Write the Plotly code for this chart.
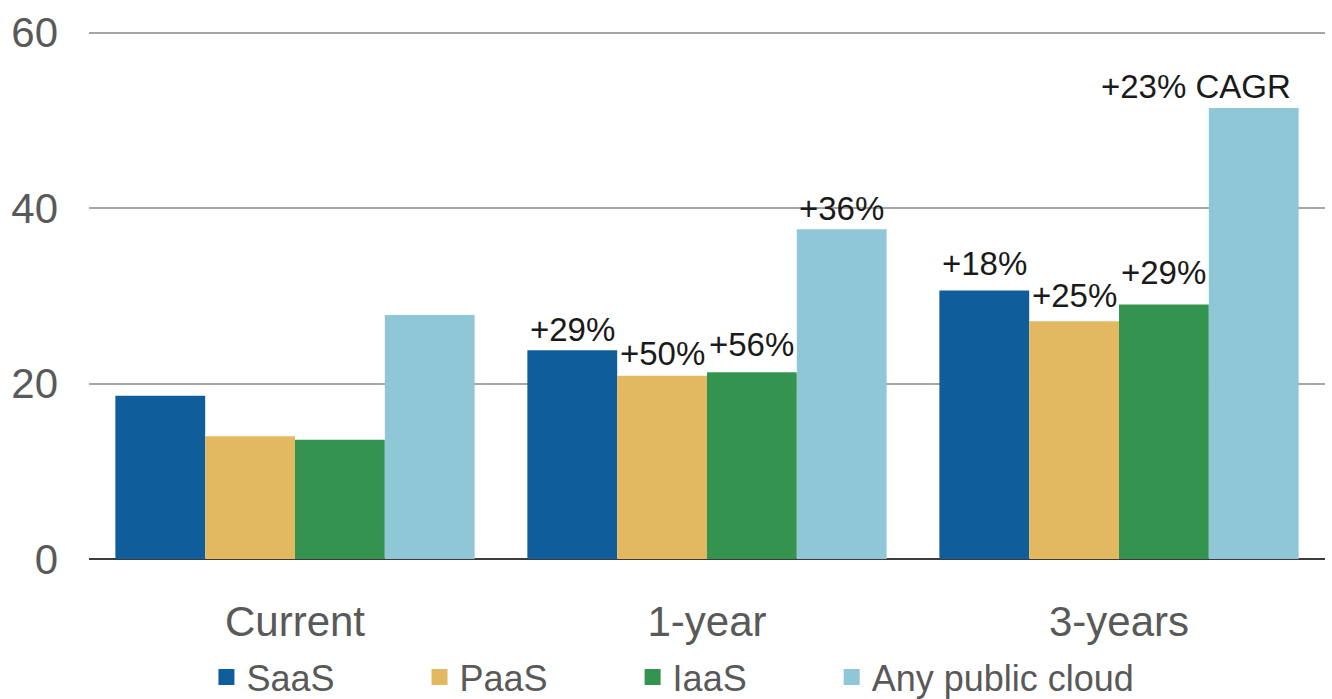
"""Grouped bar chart: public cloud adoption now, in 1 year and in 3 years."""

import plotly.graph_objects as go

PERIODS = ["Current", "1-year", "3-years"]
SERIES = ["SaaS", "PaaS", "IaaS", "Any public cloud"]

SAAS = [18.6, 23.8, 30.6]
PAAS = [14.0, 20.9, 27.1]
IAAS = [13.6, 21.3, 29.0]
ANY_CLOUD = [27.8, 37.6, 51.4]

# growth labels per series (None = no label)
SAAS_LABELS = [None, "+29%", "+18%"]
PAAS_LABELS = [None, "+50%", "+25%"]
IAAS_LABELS = [None, "+56%", "+29%"]
ANY_LABELS = [None, "+36%", "+23% CAGR"]

COLORS = ["#0F5E9B", "#E2B960", "#34944F", "#8FC7D7"]
LABEL_LIFT = [[0, 0, 7], [0, 2, 5], [0, 7, 12], [0, 0, 1]]  # px above bar, per series/period
FONT = "Liberation Sans, Arial, sans-serif"
BARGAP = 0.128
PAD = "\u00a0" * 8  # spacing between legend entries


def main() -> None:
    values = [SAAS, PAAS, IAAS, ANY_CLOUD]
    labels = [SAAS_LABELS, PAAS_LABELS, IAAS_LABELS, ANY_LABELS]

    fig = go.Figure()
    for k, (name, vals, color) in enumerate(zip(SERIES, values, COLORS)):
        fig.add_trace(go.Bar(
            x=PERIODS, y=vals, name=name, marker_color=color,
            marker_line_width=0, showlegend=False,
        ))
        # dummy trace so the legend square is bigger than the bar default
        legend_name = name if k == len(SERIES) - 1 else name + PAD
        fig.add_trace(go.Scatter(
            x=[None], y=[None], mode="markers", name=legend_name,
            marker=dict(symbol="square", size=16, color=color),
        ))

    # growth labels sit above each bar
    bar_w = (1 - BARGAP) / len(SERIES)
    for i, (vals, labs) in enumerate(zip(values, labels)):
        offset = (i - (len(SERIES) - 1) / 2) * bar_w
        for j, (v, lab) in enumerate(zip(vals, labs)):
            if not lab:
                continue
            wide = "CAGR" in lab
            fig.add_annotation(
                x=j + offset + (bar_w / 2 if wide else 0), y=v,
                text=lab, showarrow=False,
                xanchor="right" if wide else "center", yanchor="bottom",
                xshift=-6 if wide else 0, yshift=LABEL_LIFT[i][j],
                font=dict(size=33, color="#1a1a1a", family=FONT),
            )

    fig.update_layout(
        width=1332, height=699,
        barmode="group", bargap=BARGAP, bargroupgap=0,
        plot_bgcolor="white", paper_bgcolor="white",
        margin=dict(l=89, r=7, t=30, b=140),
        font=dict(family=FONT, color="#595959"),
        legend=dict(
            orientation="h", x=0.095, xanchor="left",
            yref="container", y=22 / 699, yanchor="middle",
            bgcolor="rgba(0,0,0,0)",
            font=dict(size=36, color="#595959"),
            itemsizing="trace", tracegroupgap=0,
        ),
    )
    fig.update_xaxes(
        showgrid=False, showline=False, ticks="", automargin=False,
        tickfont=dict(size=42, color="#595959"),
        ticklabelstandoff=34,
    )
    fig.update_yaxes(
        range=[0, 60.3], tickvals=[0, 20, 40, 60],
        showgrid=True, gridcolor="#A6A6A6", gridwidth=2,
        zeroline=True, zerolinecolor="#3C3C3C", zerolinewidth=2,
        showline=False, ticks="", automargin=False,
        tickfont=dict(size=42, color="#595959"),
        ticklabelstandoff=30,
    )

    # drop the default page margin so the figure sits at the window origin
    fig.write_html(
        "out.html",
        config={"displayModeBar": False},
        post_script="document.body.style.margin='0';",
    )


if __name__ == "__main__":
    main()
